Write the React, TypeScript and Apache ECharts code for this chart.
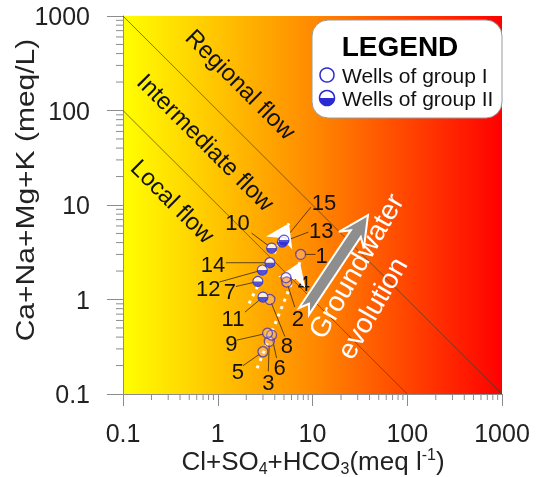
import React, { useEffect, useRef } from 'react';
import * as echarts from 'echarts';

const FONT = '"Liberation Sans", Arial, Helvetica, sans-serif';

// Log axes (decades)
const axisMin = 0.1;
const axisMax = 1000;
const tickLabels = ['0.1', '1', '10', '100', '1000'];
const minorDecades = [0.1, 1, 10, 100];
const minorMultipliers = [2, 3, 4, 5, 6, 7, 8, 9];

// Flow-system boundaries: lines of constant (anions x cations)
const boundaryProducts = [10, 100];

// Wells of group I (anions = Cl+SO4+HCO3, cations = Ca+Na+Mg+K), meq/L
const group1Ids = ['1', '2', '3', '4', '5', '6', '8', '9'];
const group1Anions = [7.5, 5.35, 3.5, 5.25, 3.0, 3.7, 3.55, 3.35];
const group1Cations = [3.0, 1.53, 0.36, 1.7, 0.28, 0.42, 1.0, 0.44];

// Wells of group II
const group2Ids = ['7', '10', '11', '12', '13', '14', '15'];
const group2Anions = [2.65, 3.7, 3.0, 2.95, 4.8, 3.55, 5.0];
const group2Cations = [1.55, 3.5, 1.06, 2.05, 4.05, 2.45, 4.25];

// Evolution trends [fromX, fromY, toX, toY]
const trendArrows = [
  [2.14, 0.91, 5.65, 6.4],
  [2.6, 0.187, 7.38, 2.48],
];
const evolutionArrow = [8.13, 0.75, 38.5, 7.8];

// Label placement (pixel offsets from the well: text centre, leader start)
const labelOffsets: Record<string, { t: [number, number]; a: [number, number] }> = {
  '1': { t: [21, 1], a: [15, 0] },
  '2': { t: [11, 36], a: [8, 25] },
  '3': { t: [-1, 41], a: [-1, 30] },
  '4': { t: [18, 6], a: [12, 2] },
  '5': { t: [-25, 20], a: [-20, 14] },
  '6': { t: [8, 32], a: [5, 23] },
  '7': { t: [-28, 10], a: [-22, 5] },
  '8': { t: [17, 46], a: [15, 37] },
  '9': { t: [-36, 10], a: [-31, 7] },
  '10': { t: [-34, -26], a: [-20, -15] },
  '11': { t: [-30, 21], a: [-18, 15] },
  '12': { t: [-54, 18], a: [-43, 12] },
  '13': { t: [39, -12], a: [26, -10] },
  '14': { t: [-57, 2], a: [-44, 0] },
  '15': { t: [40, -38], a: [27, -33] },
};

const BLUE = '#2a2ad2';
const AXIS_GRAY = '#8c8c8c';

export default function App() {
  const ref = useRef<HTMLDivElement>(null);

  useEffect(() => {
    if (!ref.current) return;
    const chart = echarts.init(ref.current, null, { renderer: 'svg' });

    const allIds = [...group1Ids, ...group2Ids];
    const allX = [...group1Anions, ...group2Anions];
    const allY = [...group1Cations, ...group2Cations];

    const minorValues: number[] = [];
    minorDecades.forEach((d) => minorMultipliers.forEach((m) => minorValues.push(d * m)));

    const boundaryData = boundaryProducts.map((p) => ({
      coords: [
        [Math.max(axisMin, p / axisMax), Math.min(axisMax, p / axisMin)],
        [Math.min(axisMax, p / axisMin), Math.max(axisMin, p / axisMax)],
      ],
    }));

    const labelFmt = (v: number) => {
      const e = Math.round(Math.log10(v));
      return tickLabels[e + 1] ?? String(v);
    };

    const option: any = {
      animation: false,
      grid: {
        left: 123,
        top: 16,
        right: 34,
        bottom: 83,
        show: true,
        borderWidth: 0,
        backgroundColor: new echarts.graphic.LinearGradient(0, 0, 1, 0, [
          { offset: 0, color: '#ffff00' },
          { offset: 0.5, color: '#ff8a00' },
          { offset: 1, color: '#ff0000' },
        ]),
      },
      xAxis: {
        type: 'log',
        logBase: 10,
        min: axisMin,
        max: axisMax,
        splitNumber: 4,
        axisLine: { show: true, onZero: false, lineStyle: { color: AXIS_GRAY, width: 1 } },
        axisTick: { show: true, length: 12, lineStyle: { color: AXIS_GRAY } },
        splitLine: { show: false },
        minorTick: { show: false },
        axisLabel: { fontSize: 25, color: '#222', margin: 26, fontFamily: FONT, formatter: labelFmt },
      },
      yAxis: {
        type: 'log',
        logBase: 10,
        min: axisMin,
        max: axisMax,
        splitNumber: 4,
        axisLine: { show: true, onZero: false, lineStyle: { color: AXIS_GRAY, width: 1 } },
        axisTick: { show: true, length: 16, lineStyle: { color: AXIS_GRAY } },
        splitLine: { show: false },
        minorTick: { show: false },
        axisLabel: { fontSize: 25, color: '#222', margin: 33, fontFamily: FONT, formatter: labelFmt },
      },
      series: [
        {
          type: 'lines',
          coordinateSystem: 'cartesian2d',
          silent: true,
          z: 1,
          data: boundaryData,
          lineStyle: { color: '#4a3a2a', width: 0.8, opacity: 0.85 },
        },
        {
          type: 'custom',
          coordinateSystem: 'cartesian2d',
          clip: false,
          silent: true,
          z: 2,
          encode: { x: 0, y: 1 },
          data: allIds.map((id, i) => [allX[i], allY[i], i]),
          renderItem: (params: any, api: any) => {
            const p = api.coord([api.value(0), api.value(1)]);
            const id = allIds[api.value(2)];
            const lay = labelOffsets[id];
            const ax = p[0] + lay.a[0];
            const ay = p[1] + lay.a[1];
            const dx = p[0] - ax;
            const dy = p[1] - ay;
            const L = Math.hypot(dx, dy) || 1;
            const ex = p[0] - (dx / L) * 4;
            const ey = p[1] - (dy / L) * 4;
            return {
              type: 'group',
              children: [
                {
                  type: 'line',
                  shape: { x1: ax, y1: ay, x2: ex, y2: ey },
                  style: { stroke: '#3a2410', lineWidth: 0.8 },
                },
                {
                  type: 'text',
                  x: p[0] + lay.t[0],
                  y: p[1] + lay.t[1],
                  style: {
                    text: id,
                    fontSize: 22,
                    fontFamily: FONT,
                    fill: '#111',
                    align: 'center',
                    verticalAlign: 'middle',
                  },
                },
              ],
            };
          },
        },
        {
          type: 'lines',
          coordinateSystem: 'cartesian2d',
          silent: true,
          z: 3,
          data: trendArrows.map((a) => ({ coords: [[a[0], a[1]], [a[2], a[3]]] })),
          symbol: ['none', 'arrow'],
          symbolSize: 22,
          lineStyle: { color: '#ffffff', width: 3, type: [3, 5], opacity: 1 },
        },
        {
          type: 'custom',
          coordinateSystem: 'cartesian2d',
          clip: false,
          silent: true,
          z: 3,
          encode: { x: [0, 2], y: [1, 3] },
          data: [evolutionArrow],
          renderItem: (params: any, api: any) => {
            const a = api.coord([api.value(0), api.value(1)]);
            const b = api.coord([api.value(2), api.value(3)]);
            const dx = b[0] - a[0];
            const dy = b[1] - a[1];
            const L = Math.hypot(dx, dy);
            const ux = dx / L;
            const uy = dy / L;
            const nx = -uy;
            const ny = ux;
            const local = [
              [0, -6],
              [L - 22, -6],
              [L - 30, -15],
              [L, 0],
              [L - 30, 15],
              [L - 22, 6],
              [0, 6],
              [9, 0],
            ];
            const points = local.map(([s, t]) => [a[0] + ux * s + nx * t, a[1] + uy * s + ny * t]);
            return {
              type: 'polygon',
              shape: { points },
              style: { fill: '#8e8e8e', stroke: '#ffffff', lineWidth: 2 },
            };
          },
        },
        {
          name: 'Wells of group I',
          type: 'scatter',
          z: 5,
          symbol: 'circle',
          symbolSize: 10,
          data: group1Ids.map((id, i) => [group1Anions[i], group1Cations[i]]),
          itemStyle: { color: 'rgba(255,220,230,0.35)', borderColor: '#4a34b8', borderWidth: 1.3 },
        },
        {
          name: 'Wells of group II',
          type: 'scatter',
          z: 5,
          symbol: 'circle',
          symbolSize: 10,
          data: group2Ids.map((id, i) => [group2Anions[i], group2Cations[i]]),
          itemStyle: { color: '#ffffff', borderColor: BLUE, borderWidth: 1.2 },
        },
        {
          name: 'Wells of group II fill',
          type: 'scatter',
          z: 6,
          symbol: 'path://M0,0 A10,10 0 0 0 20,0 Z',
          symbolSize: [10, 5],
          symbolOffset: [0, 2.5],
          data: group2Ids.map((id, i) => [group2Anions[i], group2Cations[i]]),
          itemStyle: { color: BLUE },
        },
        {
          type: 'custom',
          coordinateSystem: 'cartesian2d',
          clip: false,
          silent: true,
          z: 6,
          encode: { x: 0, y: 1 },
          data: minorValues.map((v) => [v, axisMin]),
          renderItem: (params: any, api: any) => {
            const p = api.coord([api.value(0), api.value(1)]);
            return {
              type: 'line',
              shape: { x1: p[0], y1: p[1], x2: p[0], y2: p[1] + 6 },
              style: { stroke: AXIS_GRAY, lineWidth: 1 },
            };
          },
        },
        {
          type: 'custom',
          coordinateSystem: 'cartesian2d',
          clip: false,
          silent: true,
          z: 6,
          encode: { x: 0, y: 1 },
          data: minorValues.map((v) => [axisMin, v]),
          renderItem: (params: any, api: any) => {
            const p = api.coord([api.value(0), api.value(1)]);
            return {
              type: 'line',
              shape: { x1: p[0] - 7, y1: p[1], x2: p[0], y2: p[1] },
              style: { stroke: AXIS_GRAY, lineWidth: 1 },
            };
          },
        },
      ],
      graphic: [
        // flow-system labels
        {
          type: 'text', z: 50, x: 241, y: 84, rotation: -Math.PI / 4,
          style: { text: 'Regional flow', fontSize: 24, fontFamily: FONT, fill: '#111', align: 'center', verticalAlign: 'middle' },
        },
        {
          type: 'text', z: 50, x: 206, y: 142, rotation: -Math.PI / 4,
          style: { text: 'Intermediate flow', fontSize: 24, fontFamily: FONT, fill: '#111', align: 'center', verticalAlign: 'middle' },
        },
        {
          type: 'text', z: 50, x: 173, y: 201, rotation: -Math.PI / 4,
          style: { text: 'Local flow', fontSize: 24, fontFamily: FONT, fill: '#111', align: 'center', verticalAlign: 'middle' },
        },
        // evolution text
        {
          type: 'text', z: 50, x: 356, y: 266, rotation: Math.PI / 3,
          style: { text: 'Groundwater', fontSize: 28, fontFamily: FONT, fill: '#ffffff', align: 'center', verticalAlign: 'middle' },
        },
        {
          type: 'text', z: 50, x: 372, y: 308, rotation: Math.PI / 3,
          style: { text: 'evolution', fontSize: 28, fontFamily: FONT, fill: '#ffffff', align: 'center', verticalAlign: 'middle' },
        },
        // legend
        {
          type: 'group',
          z: 100,
          children: [
            { type: 'rect', shape: { x: 312, y: 20, width: 190, height: 98, r: 16 }, style: { fill: '#ffffff', stroke: '#9a9a9a', lineWidth: 1 } },
            { type: 'text', x: 400, y: 46, style: { text: 'LEGEND', fontSize: 28, fontWeight: 'bold', fontFamily: FONT, fill: '#000', align: 'center', verticalAlign: 'middle' } },
            { type: 'circle', shape: { cx: 327, cy: 75, r: 7 }, style: { fill: '#ffffff', stroke: BLUE, lineWidth: 1.5 } },
            { type: 'text', x: 342, y: 75, style: { text: 'Wells of group I', fontSize: 21, fontFamily: FONT, fill: '#111', align: 'left', verticalAlign: 'middle' } },
            { type: 'circle', shape: { cx: 327, cy: 98, r: 7.5 }, style: { fill: '#ffffff', stroke: BLUE, lineWidth: 1.5 } },
            { type: 'sector', shape: { cx: 327, cy: 98, r0: 0, r: 7.5, startAngle: 0, endAngle: Math.PI }, style: { fill: BLUE } },
            { type: 'text', x: 342, y: 98, style: { text: 'Wells of group II', fontSize: 21, fontFamily: FONT, fill: '#111', align: 'left', verticalAlign: 'middle' } },
          ],
        },
        // axis titles
        {
          type: 'text', z: 50, x: 313, y: 461,
          style: {
            text: '{n|Cl+SO}{s|4}{n|+HCO}{s|3}{n|(meq l}{p|-1}{n|)}',
            fontFamily: FONT,
            fill: '#222',
            align: 'center',
            verticalAlign: 'middle',
            rich: {
              n: { fontSize: 26, lineHeight: 30, fontFamily: FONT, fill: '#222' },
              s: { fontSize: 16, lineHeight: 16, padding: [14, 0, 0, 0], fontFamily: FONT, fill: '#222' },
              p: { fontSize: 16, lineHeight: 16, padding: [0, 0, 14, 0], fontFamily: FONT, fill: '#222' },
            },
          },
        },
        {
          type: 'text', z: 50, x: 25, y: 190, rotation: Math.PI / 2, scaleX: 1.2,
          style: { text: 'Ca+Na+Mg+K (meq/L)', fontSize: 25, fontFamily: FONT, fill: '#222', align: 'center', verticalAlign: 'middle' },
        },
      ],
    };

    chart.setOption(option);
    return () => chart.dispose();
  }, []);

  return <div ref={ref} style={{ position: 'fixed', left: 0, top: 0, width: 536, height: 477 }} />;
}
